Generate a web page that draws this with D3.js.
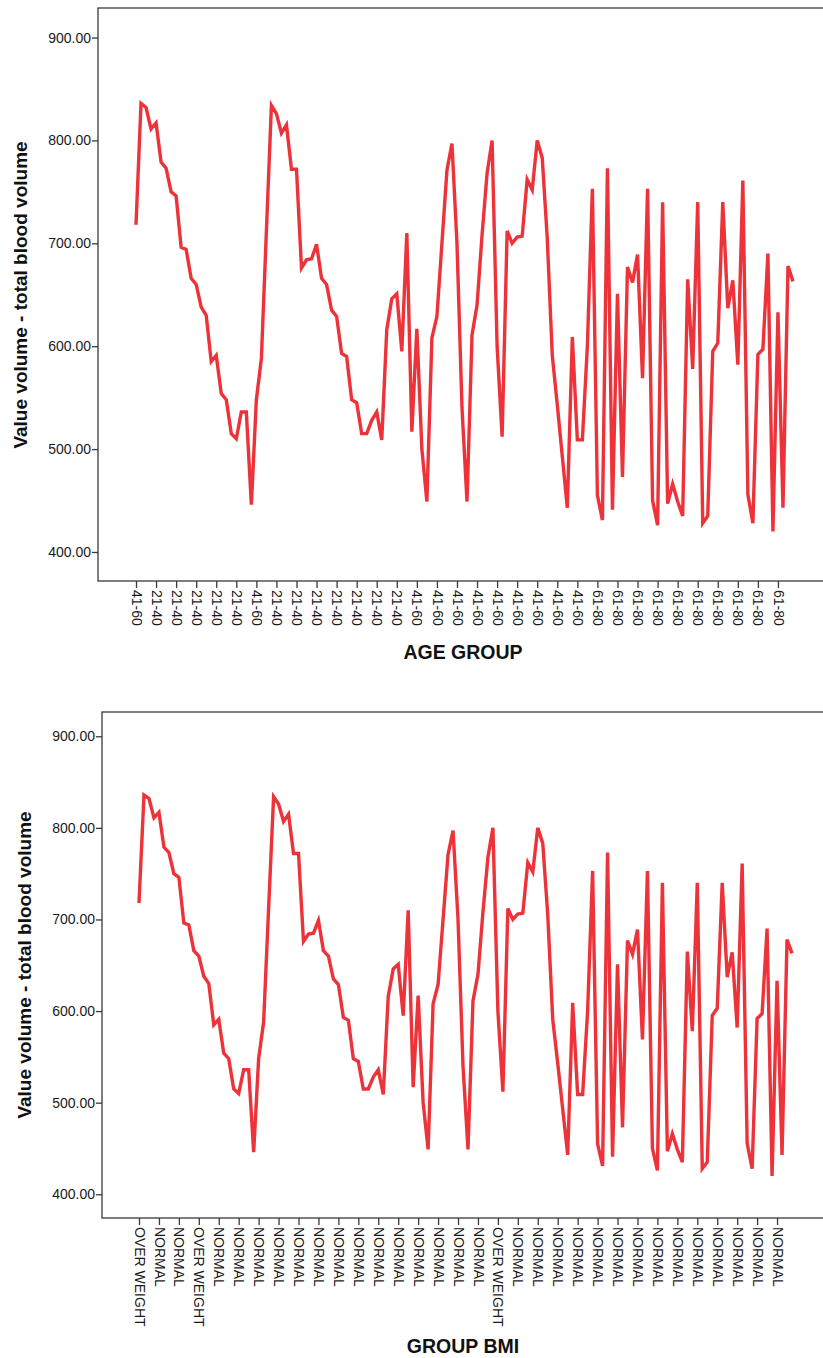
<!DOCTYPE html>
<html>
<head>
<meta charset="utf-8">
<script src="https://cdn.jsdelivr.net/npm/d3@7"></script>
<style>
  body { margin: 0; background: #fff; }
  text { font-family: Arial, "Liberation Sans", sans-serif; }
</style>
</head>
<body>
<div id="chart"></div>
<script>
// total blood volume per case, in the order of the file
var bloodVolume = [
  718, 836, 832, 811, 817, 779, 773, 750, 746, 696, 694, 666, 660, 638, 630, 585,
  591, 554, 548, 515, 510, 536, 536, 446, 548, 588, 712, 834, 826, 807, 815, 772,
  772, 676, 684, 685, 699, 666, 660, 635, 629, 593, 590, 548, 545, 515, 515, 528,
  536, 509, 616, 646, 651, 595, 710, 517, 617, 500, 449, 608, 629, 700, 771, 797,
  700, 540, 449, 611, 640, 708, 768, 800, 600, 512, 712, 700, 706, 707, 762, 752,
  800, 783, 705, 591, 543, 493, 443, 609, 509, 509, 600, 753, 455, 431, 773, 441,
  651, 473, 677, 662, 689, 569, 753, 450, 426, 740, 447, 466, 449, 435, 665, 578,
  740, 428, 435, 595, 603, 740, 637, 664, 582, 761, 456, 428, 592, 597, 690, 420,
  633, 443, 678, 663
];

// every 4th case gets a label on the category axis
var ageGroupLabels = [
  "41-60", "21-40", "21-40", "21-40", "21-40", "21-40", "41-60", "21-40",
  "21-40", "21-40", "21-40", "21-40", "21-40", "21-40", "41-60", "41-60",
  "41-60", "41-60", "41-60", "41-60", "41-60", "41-60", "41-60", "61-80",
  "61-80", "61-80", "61-80", "61-80", "61-80", "61-80", "61-80", "61-80", "61-80"
];
var bmiLabels = [
  "OVER WEIGHT", "NORMAL", "NORMAL", "OVER WEIGHT", "NORMAL", "NORMAL", "NORMAL",
  "NORMAL", "NORMAL", "NORMAL", "NORMAL", "NORMAL", "NORMAL", "NORMAL", "NORMAL",
  "NORMAL", "NORMAL", "NORMAL", "OVER WEIGHT", "NORMAL", "NORMAL", "NORMAL",
  "NORMAL", "NORMAL", "NORMAL", "NORMAL", "NORMAL", "NORMAL", "NORMAL", "NORMAL",
  "NORMAL", "NORMAL", "NORMAL"
];
var yTicks = [400, 500, 600, 700, 800, 900];
var labelStep = 4;

var width = 823,
  height = 1358;

var svg = d3
  .select("#chart")
  .append("svg")
  .attr("width", width)
  .attr("height", height);

// draw one SPSS style line chart
function drawPanel(p) {
  var g = svg.append("g");

  var index = d3.range(bloodVolume.length);

  var x = d3.scalePoint().domain(index).range([p.firstX, p.lastX]);

  var y = d3.scaleLinear().domain(p.yDomain).range([p.bottom, p.top]);

  // frame
  g.append("rect")
    .attr("x", p.left)
    .attr("y", p.top)
    .attr("width", 900)
    .attr("height", p.bottom - p.top)
    .attr("fill", "none")
    .attr("stroke", "#3a3a3a")
    .attr("stroke-width", 1.3);

  // y axis
  var yAxis = d3
    .axisLeft(y)
    .tickValues(yTicks)
    .tickSize(6)
    .tickFormat(d3.format(".2f"));

  var ya = g
    .append("g")
    .attr("transform", "translate(" + p.left + ",0)")
    .call(yAxis);
  ya.select(".domain").remove();
  ya.selectAll("line").attr("stroke", "#3a3a3a").attr("stroke-width", 1.3);
  ya.selectAll("text")
    .attr("x", -7)
    .style("font-size", "14px")
    .attr("fill", "#1a1a1a");

  // x axis, one tick every labelStep cases
  var tickIdx = index.filter(function (i) {
    return i % labelStep === 0;
  });
  var xAxis = d3
    .axisBottom(x)
    .tickValues(tickIdx)
    .tickSize(7)
    .tickFormat(function (i) {
      return p.labels[i / labelStep];
    });

  var xa = g
    .append("g")
    .attr("transform", "translate(0," + p.bottom + ")")
    .call(xAxis);
  xa.select(".domain").remove();
  xa.selectAll("line").attr("stroke", "#3a3a3a").attr("stroke-width", 1.3);
  xa.selectAll("text")
    .attr("transform", "rotate(90)")
    .attr("x", 9)
    .attr("y", 0)
    .attr("dy", "0.35em")
    .attr("text-anchor", "start")
    .style("font-size", "14px")
    .attr("fill", "#1a1a1a");

  // the line
  var line = d3
    .line()
    .x(function (d, i) {
      return x(i);
    })
    .y(function (d) {
      return y(d);
    });

  g.append("path")
    .datum(bloodVolume)
    .attr("d", line)
    .attr("fill", "none")
    .attr("stroke", "#ee3239")
    .attr("stroke-width", 3.4)
    .attr("stroke-linejoin", "miter");

  // axis titles
  g.append("text")
    .attr("transform", "translate(" + p.yTitleX + "," + p.yTitleY + ") rotate(-90)")
    .attr("text-anchor", "middle")
    .style("font-size", "19px")
    .style("font-weight", "bold")
    .attr("fill", "#111")
    .text("Value volume - total blood volume");

  g.append("text")
    .attr("x", 463)
    .attr("y", p.xTitleY)
    .attr("text-anchor", "middle")
    .style("font-size", "19.5px")
    .style("font-weight", "bold")
    .attr("fill", "#111")
    .text(p.xTitle);
}

drawPanel({
  left: 98,
  top: 8,
  bottom: 581,
  yDomain: [371.8, 928.7],
  firstX: 136,
  lastX: 793,
  labels: ageGroupLabels,
  xTitle: "AGE GROUP",
  xTitleY: 659,
  yTitleX: 27,
  yTitleY: 295
});

drawPanel({
  left: 102,
  top: 712,
  bottom: 1218,
  yDomain: [374.1, 926.5],
  firstX: 139,
  lastX: 792,
  labels: bmiLabels,
  xTitle: "GROUP BMI",
  xTitleY: 1353,
  yTitleX: 31,
  yTitleY: 965
});
</script>
</body>
</html>
